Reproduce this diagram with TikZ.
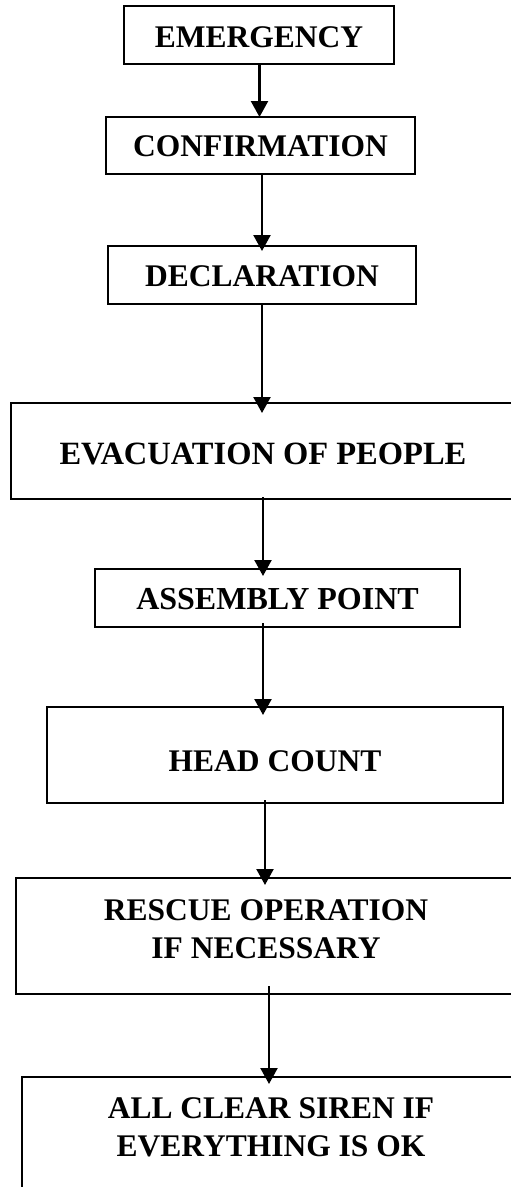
\documentclass[tikz,border=0pt]{standalone}
\usepackage{fontspec}
\setmainfont{Liberation Serif}
\usetikzlibrary{arrows.meta}
\tikzset{
  box/.style={draw, line width=2pt, outer sep=0pt, inner sep=0pt,
    font=\bfseries\fontsize{31.5}{37.5}\selectfont, align=center,
    text height=20.6pt, text depth=0pt},
  arr/.style={-{Triangle[length=16pt,width=17pt]}, line width=2.3pt}
}
\begin{document}
\begin{tikzpicture}[x=1pt,y=-1pt]
\useasboundingbox (0,0) rectangle (511,1187);
\clip (0,0) rectangle (511,1187);
\node[box, minimum width=270, minimum height=58, text height=24.6pt] (emerg) at (259,35) {EMERGENCY};
\node[box, minimum width=309, minimum height=57, text height=21.6pt] (conf) at (260.5,145.5) {CONFIRMATION};
\node[box, minimum width=308, minimum height=58, text height=23.6pt] (decl) at (262,275) {DECLARATION};
\node[box, minimum width=504, minimum height=96, text height=27.6pt,
  font=\bfseries\fontsize{32.5}{37.5}\selectfont] (evac) at (263,451) {EVACUATION OF PEOPLE};
\node[box, minimum width=365, minimum height=58, text height=23.6pt,
  font=\bfseries\fontsize{32}{37.5}\selectfont] (assem) at (277.5,598) {ASSEMBLY POINT};
\node[box, minimum width=456, minimum height=96, text height=32.6pt] (head) at (275,755) {HEAD COUNT};
\node[box, minimum width=500, minimum height=116, text height=58.1pt, text depth=14pt] (rescue) at (266,936) {RESCUE OPERATION\\IF NECESSARY};
\node[box, minimum width=498, minimum height=120, text height=58.1pt, text depth=20pt] (allclear) at (271,1137) {ALL CLEAR SIREN IF\\EVERYTHING IS OK};

\draw[arr] ([xshift=0.5pt]emerg.south) -- ([xshift=-1pt]conf.north);
\draw[arr, shorten >=-5pt] ([xshift=1.5pt]conf.south) -- (decl.north);
\draw[arr, shorten >=-10pt] (decl.south) -- ([xshift=-1pt]evac.north);
\draw[arr, shorten <=-2pt, shorten >=-7pt] (evac.south) -- ([xshift=-14.5pt]assem.north);
\draw[arr, shorten <=-4pt, shorten >=-8pt] ([xshift=-14.5pt]assem.south) -- ([xshift=-12pt]head.north);
\draw[arr, shorten <=-3pt, shorten >=-7pt] ([xshift=-10pt]head.south) -- ([xshift=-1pt]rescue.north);
\draw[arr, shorten <=-8pt, shorten >=-7pt] ([xshift=3pt]rescue.south) -- ([xshift=-2pt]allclear.north);
\end{tikzpicture}
\end{document}
